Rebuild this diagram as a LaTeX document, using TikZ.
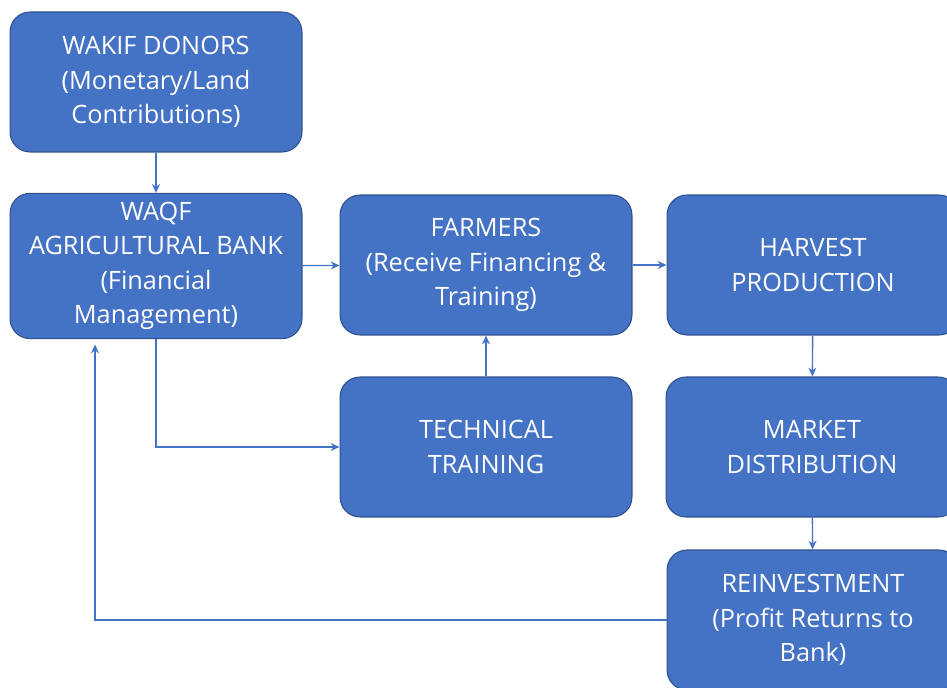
\documentclass[tikz,border=0pt]{standalone}
\usepackage{fontspec}
\setmainfont{Open Sans}
\usetikzlibrary{arrows.meta}

\definecolor{boxblue}{HTML}{4472C4}
\definecolor{edgeblue}{HTML}{2F528F}

\begin{document}
\begin{tikzpicture}[x=0.02cm, y=-0.02cm,
        box/.style={rectangle, rounded corners=0.4cm, minimum width=5.84cm, minimum height=2.8cm, inner sep=5pt, draw=edgeblue, line width=0.6pt, fill=boxblue, text=white, align=center, font=\fontsize{14.4}{19.6}\selectfont},
        link/.style={draw=boxblue, line width=0.8pt, -{Stealth[length=5pt, width=4.5pt]}}]
        \useasboundingbox (0,0) rectangle (947,688);
        \clip (0,0) rectangle (947,688);

        \node[box] (donors) at (156,82) {WAKIF DONORS\\(Monetary/Land\\Contributions)};
        \node[box] (bank) at (156,266) {WAQF\\AGRICULTURAL BANK\\(Financial\\Management)};
        \node[box] (farmers) at (486,265) {FARMERS\\(Receive Financing \&\\Training)};
        \node[box] (harvest) at (813,265) {HARVEST\\PRODUCTION};
        \node[box] (training) at (486,447) {TECHNICAL\\TRAINING};
        \node[box] (market) at (812,447) {MARKET\\DISTRIBUTION};
        \node[box] (reinvest) at (813,620) {REINVESTMENT\\(Profit Returns to\\Bank)};

        \draw[link] (donors) -- (bank);
        \draw[link] (bank) -- (farmers);
        \draw[link] (farmers) -- (harvest);
        \draw[link] (harvest) -- (market);
        \draw[link] (market) -- (reinvest);
        \draw[link] (training) -- (farmers);
        \draw[link] (bank.south) |- (training.west);
        \draw[link] (reinvest.west) -| ([xshift=-1.22cm, yshift=-3pt]bank.south);

    \end{tikzpicture}
\end{document}
